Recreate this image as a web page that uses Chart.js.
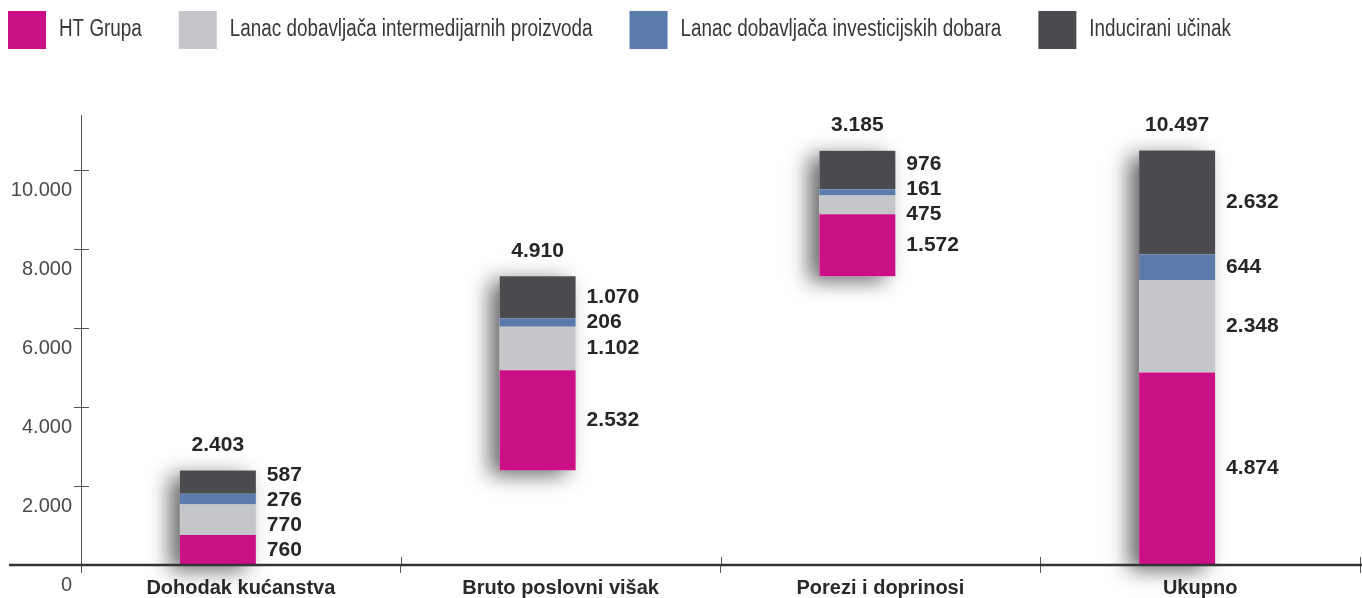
<!DOCTYPE html>
<html><head><meta charset="utf-8">
<script src="https://cdn.jsdelivr.net/npm/chart.js@4.4.1/dist/chart.umd.min.js"></script>
<style>html,body{margin:0;padding:0;background:#fff;overflow:hidden}#wrap{width:1362px;height:598px;position:relative}</style>
</head><body><div id="wrap"><canvas id="c"></canvas></div>
<script>
const categories = ['Dohodak kućanstva', 'Bruto poslovni višak', 'Porezi i doprinosi', 'Ukupno'];
const seriesNames = ['HT Grupa', 'Lanac dobavljača intermedijarnih proizvoda', 'Lanac dobavljača investicijskih dobara', 'Inducirani učinak'];
const htGrupa = [760, 2532, 1572, 4874];
const intermedijarni = [770, 1102, 475, 2348];
const investicijski = [276, 206, 161, 644];
const inducirani = [587, 1070, 976, 2632];
const totals = [2403, 4910, 3185, 10497];
const isSumBar = [false, false, false, true];
const yTicks = [0, 2000, 4000, 6000, 8000, 10000];
const colors = ['#CB0F87', '#C5C6CA', '#5A7BAB', '#4A4B4E'];

const series = [htGrupa, intermedijarni, investicijski, inducirani];
const fmt = n => String(n).replace(/\B(?=(\d{3})+(?!\d))/g, '.');
const bases = categories.map((c, i) => {
  if (isSumBar[i]) return 0;
  let s = 0;
  for (let j = 0; j < i; j++) if (!isSumBar[j]) s += totals[j];
  return s;
});

const SANS = "'Liberation Sans', Arial, sans-serif";
const CAT_PCT = 0.2877, BAR_PCT = 1.652;

const datasets = series.map((vals, s) => ({
  label: seriesNames[s],
  data: vals.map((v, i) => {
    let lo = bases[i];
    for (let k = 0; k < s; k++) lo += series[k][i];
    return [lo, lo + v];
  }),
  backgroundColor: colors[s],
  stack: 'main',
  borderWidth: 0,
  categoryPercentage: CAT_PCT,
  barPercentage: BAR_PCT
}));
datasets.push({
  label: '',
  data: categories.map(() => null),
  stack: 'pad',
  backgroundColor: 'rgba(0,0,0,0)',
  categoryPercentage: CAT_PCT,
  barPercentage: BAR_PCT
});

const shadowPlugin = {
  id: 'barShadow',
  beforeDatasetsDraw(chart) {
    const ctx = chart.ctx;
    const topMeta = chart.getDatasetMeta(3).data, botMeta = chart.getDatasetMeta(0).data;
    ctx.save();
    ctx.shadowColor = 'rgba(0,0,0,0.6)';
    ctx.shadowBlur = 20;
    ctx.shadowOffsetX = -10;
    ctx.shadowOffsetY = 5;
    ctx.fillStyle = '#ffffff';
    categories.forEach((c, i) => {
      const t = topMeta[i], b = botMeta[i];
      ctx.fillRect(t.x - t.width / 2, t.y, t.width, b.base - t.y);
    });
    ctx.restore();
  }
};

const axisPlugin = {
  id: 'axisExtras',
  afterDatasetsDraw(chart) {
    const ctx = chart.ctx, xs = chart.scales.x, ys = chart.scales.y;
    const yb = xs.top;
    ctx.save();
    ctx.strokeStyle = '#555';
    ctx.lineWidth = 1;
    ctx.beginPath();
    yTicks.forEach(v => {
      const py = Math.round(ys.getPixelForValue(v)) + 0.5;
      ctx.moveTo(ys.right, py); ctx.lineTo(ys.right + 8, py);
    });
    for (let i = 0; i <= categories.length; i++) {
      const px = Math.round(xs.getPixelForValue(i - 0.5)) + 0.5;
      ctx.moveTo(px, yb - 8); ctx.lineTo(px, yb);
    }
    ctx.stroke();
    ctx.strokeStyle = '#333';
    ctx.lineWidth = 2.5;
    ctx.beginPath();
    ctx.moveTo(9, yb); ctx.lineTo(chart.width, yb);
    ctx.stroke();
    ctx.restore();
  }
};

const labelPlugin = {
  id: 'valueLabels',
  afterDatasetsDraw(chart) {
    const ctx = chart.ctx;
    ctx.save();
    ctx.font = 'bold 21px ' + SANS;
    ctx.fillStyle = '#262626';
    ctx.textBaseline = 'middle';
    categories.forEach((c, i) => {
      const items = [3, 2, 1, 0].map(s => {
        const el = chart.getDatasetMeta(s).data[i];
        return { s, y: (el.y + el.base) / 2, x: el.x + el.width / 2 };
      });
      const gap = 25;
      for (let it = 0; it < 200; it++) {
        for (let k = 0; k < items.length - 1; k++) {
          const d = items[k + 1].y - items[k].y;
          if (d < gap) {
            const o = (gap - d) / 2;
            items[k].y -= o; items[k + 1].y += o;
          }
        }
      }
      ctx.textAlign = 'left';
      items.forEach(it => ctx.fillText(fmt(series[it.s][i]), it.x + 11, it.y));
      const topEl = chart.getDatasetMeta(3).data[i];
      ctx.textAlign = 'center';
      ctx.fillText(fmt(totals[i]), topEl.x, topEl.y - 25);
    });
    ctx.restore();
  }
};

const legendPlugin = {
  id: 'boxLegend',
  afterDraw(chart) {
    const ctx = chart.ctx;
    const sx = 0.82;
    ctx.save();
    ctx.font = '23px ' + SANS;
    ctx.textBaseline = 'middle';
    ctx.textAlign = 'left';
    let x = 8;
    seriesNames.forEach((name, s) => {
      ctx.fillStyle = chart.data.datasets[s].backgroundColor;
      ctx.fillRect(x, 11, 38, 38);
      ctx.fillStyle = '#383838';
      ctx.save();
      ctx.translate(x + 51, 30);
      ctx.scale(sx, 1);
      ctx.fillText(name, 0, 0);
      ctx.restore();
      x += 51 + ctx.measureText(name).width * sx + 37;
    });
    ctx.restore();
  }
};

new Chart(document.getElementById('c'), {
  type: 'bar',
  data: { labels: categories, datasets },
  options: {
    responsive: true,
    maintainAspectRatio: false,
    animation: false,
    layout: { padding: { top: 115, right: 2, left: 0, bottom: 0 } },
    plugins: { legend: { display: false }, tooltip: { enabled: false } },
    scales: {
      x: {
        grid: { display: true, drawOnChartArea: false, drawTicks: true, tickLength: 8, color: '#555', offset: true },
        border: { display: false },
        ticks: { font: { family: SANS, size: 20, weight: 'bold' }, color: '#2a2a2a', padding: 3, maxRotation: 0, autoSkip: false },
        afterFit(scale) { scale.height = 33; }
      },
      y: {
        stacked: false,
        min: 0,
        max: 11400,
        grid: { drawOnChartArea: false, drawTicks: true, tickLength: 7, color: '#555' },
        border: { display: true, color: '#555', width: 1 },
        afterBuildTicks(scale) { scale.ticks = yTicks.map(v => ({ value: v })); },
        ticks: {
          font: { family: SANS, size: 20 },
          color: '#4a4a4a',
          padding: 2,
          labelOffset: 20,
          callback: v => fmt(v)
        },
        afterFit(scale) { scale.width = 81; }
      }
    }
  },
  plugins: [shadowPlugin, axisPlugin, labelPlugin, legendPlugin]
});
</script>
</body></html>
